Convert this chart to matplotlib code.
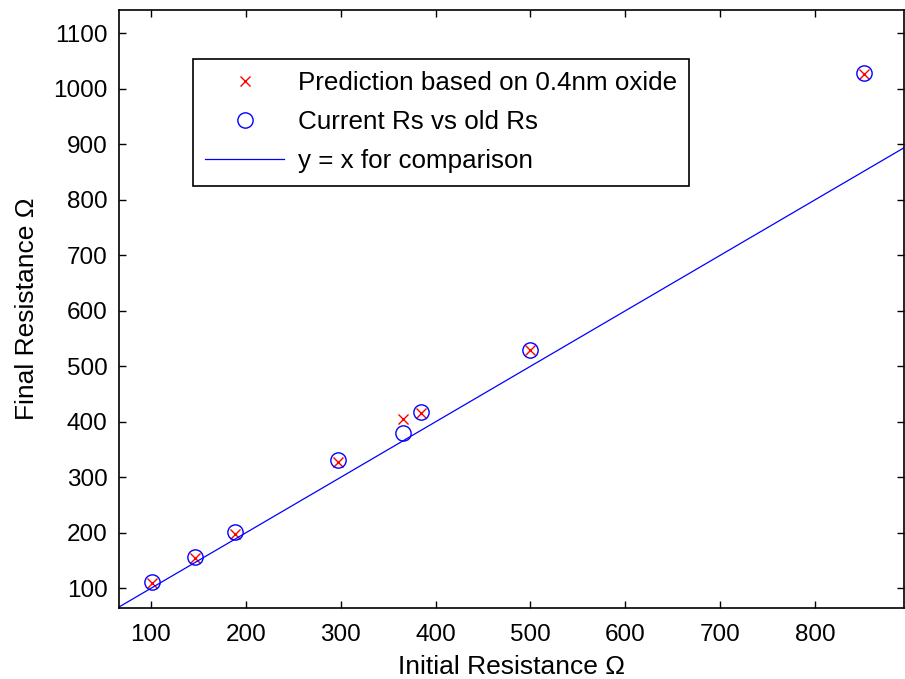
import matplotlib
matplotlib.use('Agg')
import matplotlib.pyplot as plt

plt.rcParams['font.family'] = ['Liberation Sans', 'DejaVu Sans']

# Initial vs final sheet resistance (ohm)
initial_rs = [101.5, 146.5, 188.5, 297.5, 365.5, 384.5, 500.0, 852.0]
final_rs = [111.0, 155.5, 201.5, 330.5, 379.0, 418.0, 530.0, 1029.0]
predicted_rs = [109.0, 154.0, 198.0, 327.0, 405.0, 416.0, 529.0, 1026.0]

# reference line y = x
ref_x = [60.0, 900.0]
ref_y = [60.0, 900.0]

x_ticks = [100, 200, 300, 400, 500, 600, 700, 800]
y_ticks = [100, 200, 300, 400, 500, 600, 700, 800, 900, 1000, 1100]

fig = plt.figure(figsize=(9.05, 6.79), dpi=100)
ax = fig.add_axes([0.1312, 0.105, 0.868, 0.8803])

ax.plot(initial_rs, predicted_rs, linestyle='none', marker='x', color='red',
        markersize=7, markeredgewidth=1.0, label='Prediction based on 0.4nm oxide')
ax.plot(initial_rs, final_rs, linestyle='none', marker='o', markerfacecolor='none',
        markeredgecolor='blue', markersize=11, markeredgewidth=1.0,
        label='Current Rs vs old Rs')
ax.plot(ref_x, ref_y, color='blue', linewidth=0.9, label='y = x for comparison')

ax.set_xlim(66, 894)
ax.set_ylim(65, 1142)
ax.set_xticks(x_ticks)
ax.set_yticks(y_ticks)
ax.tick_params(direction='in', length=5, width=1, top=True, right=True,
               labelsize=17.5)
ax.tick_params(axis='x', pad=12)
ax.tick_params(axis='y', pad=8)
for sp in ax.spines.values():
    sp.set_linewidth(1.2)

ax.set_xlabel('Initial Resistance Ω', fontsize=19, labelpad=6)
ax.set_ylabel('Final Resistance Ω', fontsize=19, labelpad=10)

leg = ax.legend(loc='upper left', bbox_to_anchor=(0.0941, 0.918), fontsize=18.75,
                frameon=True, fancybox=False, edgecolor='black', framealpha=1,
                borderaxespad=0, borderpad=0.47, labelspacing=0.58,
                handlelength=3.05, handletextpad=0.52)
leg.get_frame().set_linewidth(1.2)

fig.savefig('out.png', dpi=100)
